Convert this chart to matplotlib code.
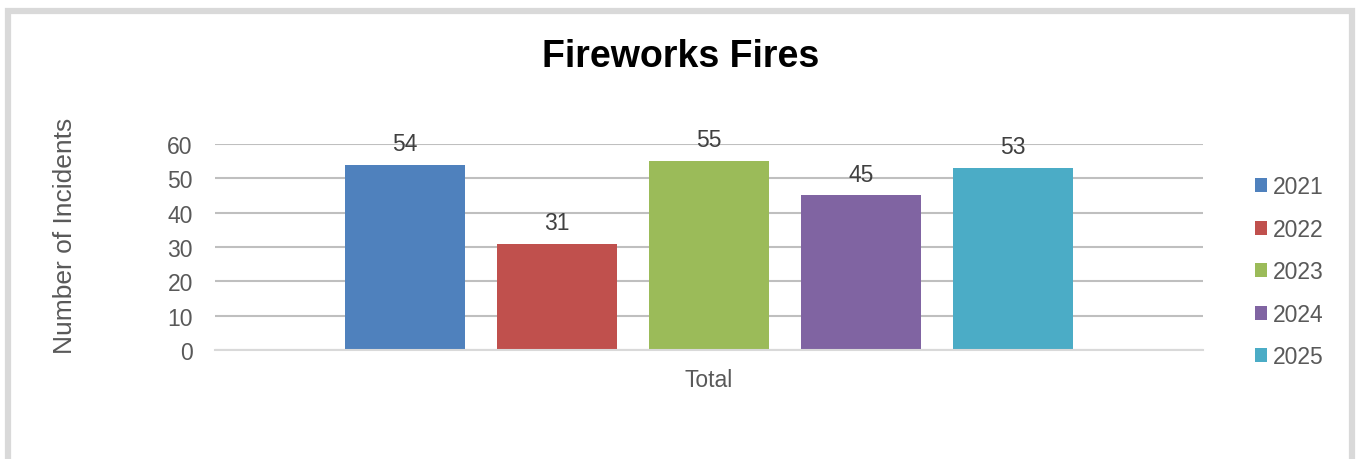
import numpy as np
import matplotlib.pyplot as plt
from matplotlib.patches import Rectangle

plt.rcParams['font.family'] = ['Liberation Sans', 'DejaVu Sans']

# Data
years = ['2021', '2022', '2023', '2024', '2025']
incidents = [54, 31, 55, 45, 53]
colors = ['#4F81BD', '#C0504D', '#9BBB59', '#8064A2', '#4BACC6']
category = 'Total'

TEXT_COLOR = '#595959'
BAR_W = 0.1215
STEP = 0.1538
FS = 16.5

fig = plt.figure(figsize=(13.56, 4.6), dpi=100)
ax = fig.add_axes([0.1586, 0.2370, 0.8872 - 0.1586, 0.6848 - 0.2370])

# outer frame
fig.patches.append(Rectangle((0.0059, -0.05), 0.9912, 1.024, transform=fig.transFigure,
                             fill=False, edgecolor='#d9d9d9', linewidth=4.5))

offsets = (np.arange(len(years)) - (len(years) - 1) / 2) * STEP
for off, yr, val, c in zip(offsets, years, incidents, colors):
    ax.bar(off, val, width=BAR_W, color=c, label=yr, zorder=3)
    ax.annotate(str(val), (off, val), xytext=(0, 7), textcoords='offset points',
                ha='center', va='bottom', fontsize=FS, color='#404040')

ax.set_xlim(-0.5, 0.5)
ax.set_ylim(0, 60)
ax.set_yticks(np.arange(0, 61, 10))
ax.set_xticks([0])
ax.set_xticklabels([category])
ax.tick_params(axis='y', length=0, labelsize=FS, labelcolor=TEXT_COLOR, pad=16)
ax.tick_params(axis='x', length=0, labelsize=FS, labelcolor=TEXT_COLOR, pad=13)
ax.grid(axis='y', color='#bfbfbf', linewidth=1.5, zorder=0)
for s in ['top', 'right', 'left']:
    ax.spines[s].set_visible(False)
ax.spines['bottom'].set_color('#d9d9d9')
ax.spines['bottom'].set_linewidth(1.5)
ax.spines['bottom'].set_zorder(4)

ax.set_ylabel('Number of Incidents', fontsize=19, color=TEXT_COLOR)
ax.yaxis.set_label_coords(-0.140, 0.558)

fig.text(0.502, 0.876, 'Fireworks Fires', ha='center', va='center',
         fontsize=27, fontweight='bold', color='black')

handles, labels = ax.get_legend_handles_labels()
leg = fig.legend(handles, labels, loc='center left', bbox_to_anchor=(0.910, 0.407),
                 frameon=False, fontsize=FS, handlelength=0.55, handleheight=0.55,
                 handletextpad=0.26, labelspacing=0.85, labelcolor=TEXT_COLOR)

fig.savefig('out.png', dpi=100, facecolor='white')
